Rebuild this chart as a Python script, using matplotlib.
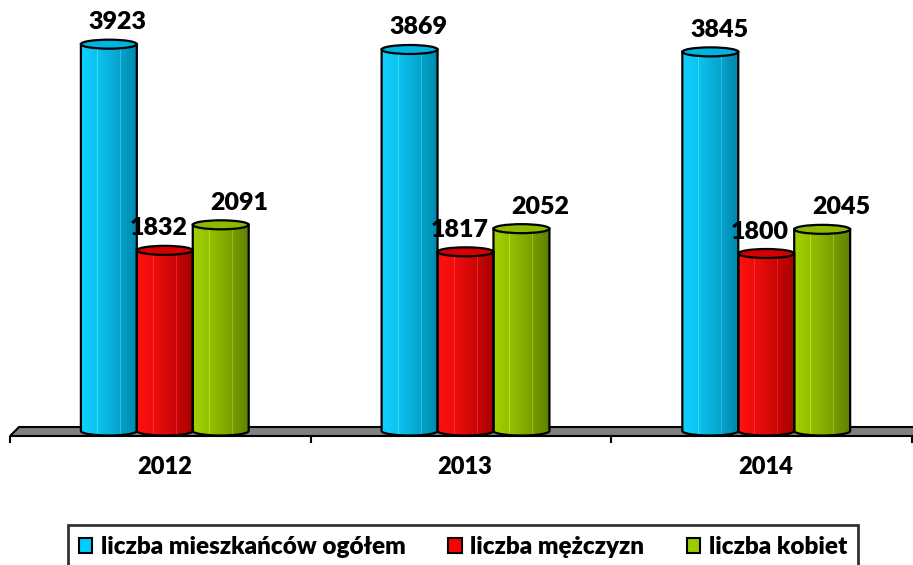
import numpy as np
import matplotlib
matplotlib.use('Agg')
from matplotlib import pyplot as plt
from matplotlib.path import Path
from matplotlib.patches import PathPatch, Ellipse, Polygon, Patch
from matplotlib.colors import to_rgb

years = ['2012', '2013', '2014']
series = ['liczba mieszkańców ogółem', 'liczba mężczyzn', 'liczba kobiet']
ogolem = [3923, 3869, 3845]
mezczyzni = [1832, 1817, 1800]
kobiety = [2091, 2052, 2045]
values = [ogolem, mezczyzni, kobiety]

light = ['#10d0ff', '#ff1010', '#a0d000']
dark = ['#0088ac', '#a80000', '#5f8200']
top_col = ['#00b4e0', '#d40000', '#8cba00']
legend_col = ['#00ccff', '#ff0000', '#99cc00']

plt.rcParams['font.family'] = ['Lato', 'DejaVu Sans']
weight = 'heavy'

fig = plt.figure(figsize=(9.13, 5.65), dpi=100)
ax = fig.add_axes([0, 65 / 565, 1, 500 / 565])
ax.axis('off')

ppx = 0.0986          # pixels per unit on the value axis
eh = 9 / ppx          # height of the cylinder ellipses in data units
w = 0.186
shift = 0.015
x = np.arange(len(years))

# grey floor
floor = Polygon([(-0.5, -51), (2.6, -51), (2.6, 41), (-0.47, 41)], closed=True,
                facecolor='#808080', edgecolor='black', lw=1.5, zorder=1)
ax.add_patch(floor)
for b in [-0.5, 0.5, 1.5, 2.5]:
    ax.plot([b, b], [-51, -122], color='black', lw=1.5, zorder=1, solid_capstyle='butt')


def cylinder(rect, c_light, c_dark, c_top):
    x0, wd, h = rect.get_x(), rect.get_width(), rect.get_height()
    cx = x0 + wd / 2
    t = np.linspace(np.pi, 2 * np.pi, 40)
    arc = np.column_stack([cx + wd / 2 * np.cos(t), eh / 2 * np.sin(t)])
    verts = np.vstack([[x0, h], arc, [x0 + wd, h], [x0, h]])
    path = Path(verts, closed=True)

    s = np.linspace(0, 1, 64)
    a, b = np.array(to_rgb(c_light)), np.array(to_rgb(c_dark))
    g = a + (b - a) * s[:, None] ** 1.3
    for p in (0.3, 0.72):
        k = int(p * 63)
        g[k] = np.clip(g[k] + 0.12, 0, 1)
    im = ax.imshow(g[None, :, :], extent=(x0, x0 + wd, -eh / 2, h), aspect='auto',
                   interpolation='nearest', zorder=3)
    outline = PathPatch(path, facecolor='none', edgecolor='black', lw=1.6, zorder=4)
    ax.add_patch(outline)
    im.set_clip_path(outline)
    ax.add_patch(Ellipse((cx, h), wd, eh, facecolor=c_top, edgecolor='black', lw=1.6, zorder=5))


bars = []
for i in range(3):
    bc = ax.bar(x + shift + (i - 1) * w, values[i], w, color='none', edgecolor='none', zorder=2)
    bars.append(bc)
    for rect in bc:
        cylinder(rect, light[i], dark[i], top_col[i])

dx = [9, -6, 19]
for i, bc in enumerate(bars):
    for rect, v in zip(bc, values[i]):
        ax.annotate(str(v), (rect.get_x() + rect.get_width() / 2, v), xytext=(dx[i], 22),
                    textcoords='offset pixels', ha='center', va='center',
                    fontsize=18, fontweight=weight, zorder=6)

for i, yr in enumerate(years):
    ax.text(i + 0.013, -370, yr, ha='center', va='center', fontsize=17, fontweight=weight)

ax.set_xlim(-0.533, 2.503)
ax.set_ylim(-700, 4371)

handles = [Patch(facecolor=c, edgecolor='black', lw=1.5) for c in legend_col]
leg = fig.legend(handles, series, loc='upper left',
                 bbox_to_anchor=(68 / 913, 1 - 525 / 565, 790 / 913, 0.0), mode='expand',
                 ncol=3, prop={'weight': weight, 'size': 17.5}, handlelength=0.55,
                 handleheight=0.55, handletextpad=0.35, borderpad=0.45, frameon=True,
                 fancybox=False, edgecolor='black', borderaxespad=0)
leg.get_frame().set_linewidth(2)

fig.savefig('out.png', dpi=100)
